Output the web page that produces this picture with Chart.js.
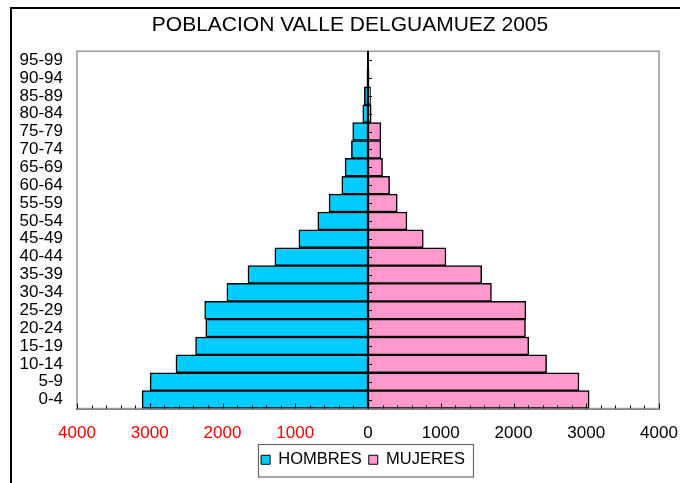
<!DOCTYPE html>
<html>
<head>
<meta charset="utf-8">
<script src="https://cdn.jsdelivr.net/npm/chart.js@4/dist/chart.umd.min.js"></script>
<style>
  body { margin: 0; background: #fff; }
  #marco { position: absolute; left: 10px; top: 7px; width: 800px; height: 600px; border: 2px solid #000; }
  #piramide { position: absolute; left: 0; top: 0; }
</style>
</head>
<body>
<div id="marco"></div>
<canvas id="piramide" width="680" height="483"></canvas>
<script>
// grupos de edad (de abajo hacia arriba)
const ageGroups = ["0-4", "5-9", "10-14", "15-19", "20-24", "25-29", "30-34", "35-39", "40-44", "45-49",
  "50-54", "55-59", "60-64", "65-69", "70-74", "75-79", "80-84", "85-89", "90-94", "95-99"];

const hombres = [3105, 2995, 2640, 2370, 2230, 2245, 1940, 1650, 1280, 950,
  690, 535, 360, 315, 228, 210, 72, 50, 15, 8];

const mujeres = [3040, 2900, 2455, 2210, 2165, 2170, 1697, 1563, 1072, 760,
  535, 402, 297, 200, 177, 177, 44, 35, 15, 8];

const xTicks = [-4000, -3000, -2000, -1000, 0, 1000, 2000, 3000, 4000];

const FONT = "Liberation Sans, Arial, sans-serif";

// plot frame, minor ticks and the ticks on the zero line
const framePlugin = {
  id: "framePlugin",
  afterLayout(chart) {
    // title and legend sit a little off the default centre
    chart.titleBlock.left = 41;
    chart.legend.left -= 5;
    chart.legend.right -= 5;
  },
  beforeDatasetsDraw(chart) {
    const a = chart.chartArea;
    const ctx = chart.ctx;
    ctx.save();
    ctx.strokeStyle = "#9a9a9a";
    ctx.lineWidth = 1.5;
    ctx.strokeRect(a.left, a.top, a.right - a.left, a.bottom - a.top);
    ctx.restore();
  },
  afterDraw(chart) {
    const ctx = chart.ctx;
    const x = chart.scales.x;
    const y = chart.scales.y;
    const a = chart.chartArea;
    ctx.save();
    ctx.strokeStyle = "#000";
    ctx.lineWidth = 1;
    // minor ticks every 200
    for (let v = -4000; v <= 4000; v += 200) {
      const px = Math.round(x.getPixelForValue(v)) + 0.5;
      const len = v % 1000 === 0 ? 5 : 3;
      ctx.beginPath();
      ctx.moveTo(px, a.bottom);
      ctx.lineTo(px, a.bottom - len);
      ctx.stroke();
    }
    // zero axis
    const x0 = x.getPixelForValue(0);
    ctx.lineWidth = 2;
    ctx.beginPath();
    ctx.moveTo(x0, a.top);
    ctx.lineTo(x0, a.bottom);
    ctx.stroke();
    ctx.lineWidth = 1;
    for (let i = 0; i < ageGroups.length; i++) {
      const py = Math.round(y.getPixelForValue(i)) + 0.5;
      ctx.beginPath();
      ctx.moveTo(x0, py);
      ctx.lineTo(x0 + 4, py);
      ctx.stroke();
    }
    // legend box
    const boxes = chart.legend.legendHitBoxes;
    if (boxes.length) {
      const first = boxes[0];
      const last = boxes[boxes.length - 1];
      const l = Math.round(first.left) - 2.5;
      const r = Math.round(last.left + last.width) + 8.5;
      ctx.strokeStyle = "#666";
      ctx.lineWidth = 1.2;
      ctx.strokeRect(l, Math.round(first.top) - 7.5, r - l, first.height + 16);
    }
    ctx.restore();
  }
};

new Chart(document.getElementById("piramide"), {
  type: "bar",
  data: {
    labels: ageGroups,
    datasets: [
      {
        label: "HOMBRES",
        data: hombres.map((v) => -v),
        backgroundColor: "#00CCFF",
        borderColor: "#000",
        borderWidth: 1.5,
        borderSkipped: false,
      },
      {
        label: "MUJERES",
        data: mujeres,
        backgroundColor: "#FF99CC",
        borderColor: "#000",
        borderWidth: 1.5,
        borderSkipped: false,
      },
    ],
  },
  options: {
    indexAxis: "y",
    responsive: false,
    animation: false,
    categoryPercentage: 1,
    barPercentage: 1,
    layout: { padding: { left: 0, right: 21, top: 0, bottom: 5 } },
    scales: {
      x: {
        stacked: true,
        min: -4000,
        max: 4000,
        afterBuildTicks(scale) {
          scale.ticks = xTicks.map((v) => ({ value: v }));
        },
        afterFit(scale) {
          scale.height = 36;
          scale.paddingLeft = 0;
          scale.paddingRight = 0;
        },
        grid: { display: false, drawTicks: false },
        border: { display: true, color: "#000", width: 1.5 },
        ticks: {
          padding: 15,
          maxRotation: 0,
          font: { family: FONT, size: 17 },
          color: (c) => (c.tick && c.tick.value < 0 ? "#FF0000" : "#000"),
          callback: (v) => String(Math.abs(v)),
        },
      },
      y: {
        stacked: true,
        reverse: true,
        afterFit(scale) {
          scale.width = 77;
        },
        grid: { display: false, drawTicks: false },
        border: { display: false },
        ticks: {
          padding: 14,
          autoSkip: false,
          font: { family: FONT, size: 17, lineHeight: 1 },
          color: "#000",
        },
      },
    },
    plugins: {
      title: {
        display: true,
        text: "POBLACION VALLE DELGUAMUEZ 2005",
        color: "#000",
        font: { family: FONT, size: 21, weight: "normal" },
        padding: { top: 13, bottom: 13 },
      },
      legend: {
        position: "bottom",
        fullSize: false,
        labels: {
          boxWidth: 9,
          boxHeight: 9,
          color: "#000",
          padding: 7,
          font: { family: FONT, size: 16.5 },
          generateLabels(chart) {
            return chart.data.datasets.map((ds, i) => ({
              text: ds.label,
              fillStyle: ds.backgroundColor,
              strokeStyle: "#000",
              lineWidth: 1,
              datasetIndex: i,
              fontColor: "#000",
            }));
          },
        },
      },
      tooltip: { enabled: false },
    },
  },
  plugins: [framePlugin],
});
</script>
</body>
</html>
